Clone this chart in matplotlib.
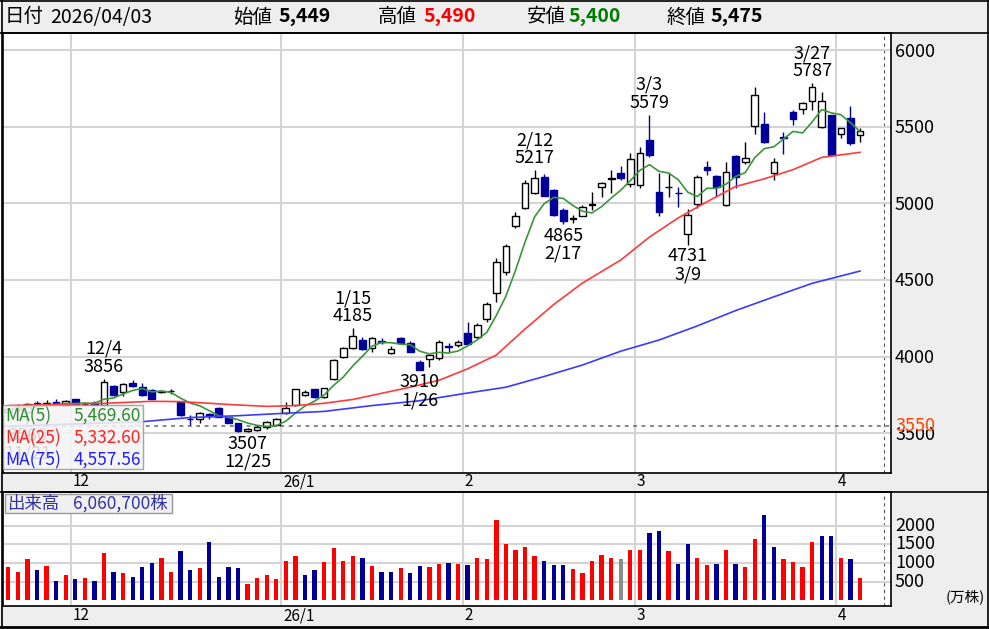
import numpy as np
import pandas as pd
import matplotlib.pyplot as plt
import matplotlib.transforms as mtransforms
from matplotlib.patches import Rectangle
from matplotlib.lines import Line2D

plt.rcParams['font.family'] = ['Noto Sans CJK JP', 'DejaVu Sans']

# 日足 2025/11/19 - 2026/04/03 (index 0 = 11/19)
opens = [3640, 3650, 3640, 3700, 3690, 3705, 3684, 3721, 3688, 3700,
         3684, 3808, 3771, 3825, 3804, 3782, 3770, 3773, 3701, 3595,
         3592, 3625, 3662, 3603, 3564, 3515, 3520, 3538, 3553, 3630,
         3684, 3749, 3786, 3734, 3854, 4000, 4054, 4108, 4054, 4100,
         4025, 4119, 4087, 3967, 3982, 3989, 4070, 4076, 4156, 4130,
         4243, 4413, 4554, 4855, 4968, 5066, 5170, 5088, 4957, 4900,
         4920, 4990, 5105, 5161, 5196, 5127, 5120, 5414, 5076, 5108,
         5070, 4800, 4996, 5240, 5179, 4989, 5311, 5268, 5505, 5518,
         5196, 5431, 5599, 5614, 5671, 5501, 5577, 5453, 5555, 5449]
highs = [3665, 3690, 3700, 3712, 3717, 3721, 3717, 3725, 3700, 3710,
         3856, 3812, 3825, 3850, 3825, 3790, 3782, 3791, 3705, 3619,
         3640, 3634, 3668, 3608, 3568, 3535, 3545, 3580, 3597, 3706,
         3790, 3780, 3790, 3797, 3985, 4062, 4185, 4130, 4130, 4119,
         4069, 4130, 4100, 3975, 4019, 4110, 4087, 4110, 4224, 4220,
         4358, 4641, 4735, 4942, 5150, 5217, 5192, 5095, 4968, 4924,
         4990, 5077, 5140, 5215, 5244, 5327, 5366, 5579, 5196, 5196,
         5109, 4961, 5185, 5279, 5185, 5272, 5316, 5403, 5762, 5599,
         5294, 5468, 5610, 5664, 5787, 5729, 5577, 5490, 5636, 5490]
lows = [3610, 3630, 3560, 3660, 3684, 3684, 3680, 3684, 3675, 3675,
        3680, 3745, 3745, 3800, 3745, 3720, 3765, 3756, 3615, 3553,
        3568, 3590, 3604, 3565, 3510, 3507, 3512, 3530, 3545, 3625,
        3680, 3745, 3730, 3730, 3850, 3990, 4050, 4040, 4030, 4082,
        4020, 4080, 4030, 3910, 3935, 3980, 4032, 4060, 4076, 4120,
        4228, 4358, 4533, 4838, 4960, 5060, 5045, 4915, 4865, 4874,
        4915, 4957, 5040, 5070, 5155, 5109, 5098, 5301, 4918, 5044,
        4979, 4731, 4968, 5185, 5044, 4985, 5102, 5257, 5453, 5392,
        5153, 5322, 5512, 5583, 5610, 5490, 5316, 5425, 5381, 5400]
closes = [3655, 3670, 3690, 3675, 3699, 3695, 3710, 3688, 3692, 3684,
          3836, 3749, 3821, 3806, 3749, 3723, 3775, 3776, 3619, 3590,
          3634, 3615, 3608, 3569, 3514, 3525, 3538, 3575, 3592, 3662,
          3786, 3771, 3734, 3793, 3978, 4054, 4134, 4050, 4124, 4097,
          4047, 4087, 4032, 3912, 4010, 4097, 4065, 4097, 4080, 4206,
          4341, 4620, 4724, 4920, 5135, 5164, 5050, 4924, 4887, 4905,
          4978, 4993, 5131, 5164, 5164, 5288, 5330, 5318, 4946, 5110,
          5068, 4924, 5174, 5218, 5105, 5207, 5174, 5298, 5708, 5399,
          5268, 5425, 5549, 5657, 5759, 5671, 5316, 5490, 5396, 5475]
# 出来高 (万株)
volumes = [886, 770, 1100, 814, 930, 520, 680, 564, 591, 520,
           1279, 770, 725, 636, 886, 1011, 1145, 770, 1323, 814,
           859, 1573, 636, 886, 859, 430, 609, 680, 564, 1064,
           1189, 680, 814, 1020, 1395, 1064, 1189, 1145, 930, 770,
           770, 859, 725, 930, 886, 975, 1011, 973, 938, 1143,
           1098, 2143, 1518, 1348, 1438, 1179, 1063, 938, 938, 848,
           723, 1063, 1223, 1143, 1098, 1348, 1348, 1813, 1848, 1313,
           982, 1518, 1143, 938, 982, 1348, 982, 893, 1643, 2277,
           1438, 1098, 1018, 893, 1563, 1732, 1732, 1143, 1098, 606]

# 移動平均 (読み取り値)
ma25_idx = [0, 5, 10, 15, 18, 21, 24, 27, 30, 33, 36, 39, 42, 45, 48, 51,
            54, 57, 60, 64, 67, 70, 73, 76, 79, 82, 85, 89]
ma25_val = [3680, 3688, 3695, 3708, 3706, 3695, 3684, 3675, 3680, 3695,
            3720, 3760, 3800, 3845, 3920, 4010, 4180, 4340, 4480, 4630,
            4780, 4905, 5010, 5110, 5160, 5220, 5300, 5333]
ma75_idx = [0, 7, 14, 19, 24, 28, 33, 38, 43, 48, 52, 56, 60, 64, 68, 72,
            76, 80, 84, 89]
ma75_val = [3545, 3560, 3575, 3602, 3614, 3627, 3642, 3680, 3712, 3762,
            3800, 3870, 3945, 4035, 4108, 4200, 4300, 4390, 4478, 4558]

month_pos = [7, 29, 48, 66, 87]
month_lab = ['12', '26/1', '2', '3', '4']
high_marks = [(10, '12/4'), (36, '1/15'), (55, '2/12'), (67, '3/3'), (84, '3/27')]
low_marks = [(2, '11/21'), (25, '12/25'), (43, '1/26'), (58, '2/17'), (71, '3/9')]

W, H = 989, 629
fig = plt.figure(figsize=(W / 100, H / 100), dpi=100)


def rect(x0, y0, x1, y1):
    return [x0 / W, 1 - y1 / H, (x1 - x0) / W, (y1 - y0) / H]


def box(x0, y0, x1, y1, **kw):
    r = Rectangle((x0 / W, 1 - y1 / H), (x1 - x0) / W, (y1 - y0) / H,
                  transform=fig.transFigure, **kw)
    fig.add_artist(r)


def hline(y, x0, x1, lw=1.2, color='black', z=10):
    fig.add_artist(Line2D([x0 / W, x1 / W], [1 - y / H, 1 - y / H],
                          transform=fig.transFigure, lw=lw, color=color, zorder=z))


def vline(x, y0, y1, lw=1.2, color='black', z=10, ls='-'):
    fig.add_artist(Line2D([x / W, x / W], [1 - y0 / H, 1 - y1 / H],
                          transform=fig.transFigure, lw=lw, color=color, zorder=z, ls=ls))


gray = '#eeeeee'
# 帯の背景
box(0, 0, 989, 33, facecolor=gray, edgecolor='none', zorder=-1)
box(891, 33, 989, 629, facecolor=gray, edgecolor='none', zorder=-1)
box(0, 473, 989, 492, facecolor=gray, edgecolor='none', zorder=-1)
box(0, 606, 989, 629, facecolor=gray, edgecolor='none', zorder=-1)

n = len(closes)
idx = np.arange(n)
xlim = (-0.554, 92.24)
dash_x = 91.5

ax = fig.add_axes(rect(3, 33, 891, 473))
axv = fig.add_axes(rect(3, 492, 891, 606))
for a in (ax, axv):
    a.set_xlim(*xlim)
    a.set_xticks([])
    a.set_yticks([])
    for s in a.spines.values():
        s.set_linewidth(1.2)
    for m in month_pos:
        a.axvline(m - 0.5, color='#d4d4d4', lw=1.5, zorder=1)
    a.axvline(dash_x, color='#555555', lw=0.8, ls=(0, (3, 3)), zorder=1)

ax.set_ylim(3240, 6112)
axv.set_ylim(-150, 2904)

for p in [3500, 4000, 4500, 5000, 5500, 6000]:
    ax.axhline(p, color='#d4d4d4', lw=1.5, zorder=1)
for v in [500, 1000, 1500, 2000]:
    axv.axhline(v, color='#d4d4d4', lw=1.5, zorder=1)

ax.axhline(3550, color='#666666', lw=1.1, ls=(0, (2.5, 3)), zorder=2)

# ローソク足
down_c = '#000099'
for i in range(n):
    o, h, l, c = opens[i], highs[i], lows[i], closes[i]
    up = c >= o
    col = 'black' if up else down_c
    ax.vlines(i, l, h, color=col, lw=1.0, zorder=3)
    if c != o:
        ax.bar(i, abs(c - o), bottom=min(o, c), width=0.7,
               facecolor='white' if up else down_c, edgecolor=col, lw=1.0, zorder=4)
    else:
        ax.hlines(o, i - 0.35, i + 0.35, color=col, lw=1.0, zorder=4)

ma5 = pd.Series(closes).rolling(5, min_periods=1).mean()
ax.plot(idx, ma5, color='#3a963a', lw=1.2, zorder=5)
ax.plot(ma25_idx, ma25_val, color='#ff3b3b', lw=1.2, zorder=5)
ax.plot(ma75_idx, ma75_val, color='#3b3bff', lw=1.2, zorder=5)

for i, d in high_marks:
    ax.annotate(f'{d}\n{highs[i]}', xy=(i, highs[i]), xytext=(0, 2),
                textcoords='offset points', ha='center', va='bottom',
                fontsize=13, linespacing=1.0, zorder=6)
for i, d in low_marks:
    ax.annotate(f'{lows[i]}\n{d}', xy=(i, lows[i]), xytext=(0, -2),
                textcoords='offset points', ha='center', va='top',
                fontsize=13, linespacing=1.0, zorder=6)

# 出来高
prev = [closes[0]] + closes[:-1]
vcol = []
for i in range(n):
    if i == 0 or closes[i] > prev[i]:
        vcol.append('#ff0000')
    elif closes[i] < prev[i]:
        vcol.append(down_c)
    else:
        vcol.append('#8c8c8c')
axv.bar(idx, volumes, width=0.45, color=vcol, zorder=3)

# 目盛り
tr = mtransforms.blended_transform_factory(ax.transAxes, ax.transData)
tr = mtransforms.offset_copy(tr, fig, y=-1.5, units='dots')
for p in [3500, 4000, 4500, 5000, 5500, 6000]:
    ax.text(1 + 4 / 888, p, str(p), transform=tr, ha='left', va='center',
            fontsize=13, clip_on=False)
ax.text(1 + 4 / 888, 3557, '3550', transform=tr, ha='left', va='center',
        fontsize=13, color='#ff4400', clip_on=False,
        bbox=dict(facecolor=gray, edgecolor='none', pad=-3.5))
trv = mtransforms.blended_transform_factory(axv.transAxes, axv.transData)
for v in [500, 1000, 1500, 2000]:
    axv.text(1 + 4 / 888, v, str(v), transform=trv, ha='left', va='center',
             fontsize=13, clip_on=False)
fig.text(985 / W, 1 - 597 / H, '(万株)', ha='right', va='center', fontsize=10.5)

trx = mtransforms.blended_transform_factory(ax.transData, ax.transAxes)
trxv = mtransforms.blended_transform_factory(axv.transData, axv.transAxes)
for m, lab in zip(month_pos, month_lab):
    ax.text(m - 0.3, -9 / 440, lab, transform=trx, ha='left', va='center',
            fontsize=11, clip_on=False)
    axv.text(m - 0.3, -10 / 114, lab, transform=trxv, ha='left', va='center',
             fontsize=11, clip_on=False)

# 枠線
hline(33, 0, 989)
hline(492, 0, 989)
hline(626.5, 0, 989, lw=2)
hline(1, 0, 989)
vline(1.5, 0, 627)
vline(987.5, 0, 627)

# ヘッダー
hy = 1 - 17 / H
fig.text(5 / W, hy, '日付', fontsize=14, va='center')
fig.text(50 / W, hy, '2026/04/03', fontsize=14, va='center')
header = [(233, '始値', 278, '5,449', 'black'),
          (378, '高値', 423, '5,490', '#ff0000'),
          (527, '安値', 568, '5,400', '#007a00'),
          (667, '終値', 710, '5,475', 'black')]
for x0, lab, x1, val, c in header:
    fig.text(x0 / W, hy, lab, fontsize=14, va='center')
    fig.text(x1 / W, hy, val, fontsize=14, va='center', fontweight='bold', color=c)

# MA凡例
box(3, 405, 143, 469, facecolor='#f4f4f4', edgecolor='#999999', lw=1, alpha=0.88, zorder=5)
legend_rows = [('MA(5)', ma5.iloc[-1], '#2e8b2e', 416),
               ('MA(25)', 5332.60, '#ff2020', 438),
               ('MA(75)', 4557.56, '#2020ff', 460)]
for lab, val, c, y in legend_rows:
    fig.text(5 / W, 1 - y / H, lab, color=c, fontsize=12.5, va='center', zorder=6)
    fig.text(141 / W, 1 - y / H, f'{val:,.2f}', color=c, fontsize=12.5,
             va='center', ha='right', zorder=6)

# 出来高凡例
box(5, 494, 172, 513, facecolor='#f0f0f0', edgecolor='#999999', lw=1, zorder=5)
fig.text(7 / W, 1 - 503.5 / H, '出来高', color='#3030a8', fontsize=12.5, va='center', zorder=6)
fig.text(73 / W, 1 - 503.5 / H, f'{volumes[-1] * 10000 + 700:,}株', color='#3030a8',
         fontsize=12.5, va='center', zorder=6)

fig.savefig('out.png', dpi=100)
